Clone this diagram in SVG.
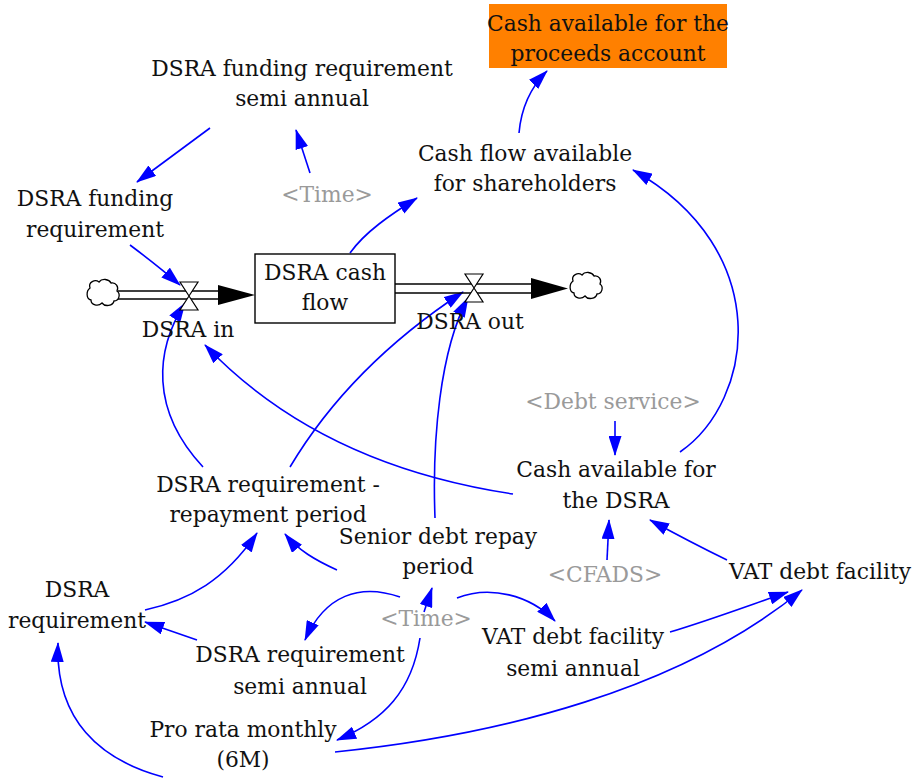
<svg xmlns="http://www.w3.org/2000/svg" width="917" height="780" viewBox="0 0 917 780">
<defs>
<style>
text{font-size:21.8px;fill:#111;text-anchor:middle}
text.g{fill:#9a9a9a}
.c{fill:none;stroke:#0000ff;stroke-width:1.6;marker-end:url(#a)}
.pipe{stroke:#000;stroke-width:1.4;fill:none}
.cloud{fill:#fff;stroke:#000;stroke-width:1.3}
.valve{fill:#fff;stroke:#000;stroke-width:1.2}
</style>
<marker id="a" markerWidth="20" markerHeight="13" refX="19" refY="6.5" orient="auto" markerUnits="userSpaceOnUse"><path d="M0,0 L20,6.5 L0,13 Z" fill="#0000ff"/></marker>
</defs>
<rect width="917" height="780" fill="#fff"/>

<g id="connectors">
<path class="c" d="M519,133 C521,110 530,88 547,71"/>
<path class="c" d="M210,128 L137,182"/>
<path class="c" d="M310,173 L296,130"/>
<path class="c" d="M350,253 C365,232 390,215 417,198"/>
<path class="c" d="M130,245 C150,260 165,272 180,285"/>
<path class="c" d="M203,467 C150,410 155,350 185,303"/>
<path class="c" d="M513,494 C420,480 300,445 205,345"/>
<path class="c" d="M290,467 C330,400 390,340 463,292"/>
<path class="c" d="M435,518 C432,440 440,350 468,298"/>
<path class="c" d="M615,421 L615,455"/>
<path class="c" d="M680,452 C755,400 775,250 633,170"/>
<path class="c" d="M607,560 L609,520"/>
<path class="c" d="M727,560 Q690,542 650,520"/>
<path class="c" d="M145,610 C190,600 225,580 257,533"/>
<path class="c" d="M337,570 C315,560 298,550 285,534"/>
<path class="c" d="M424,612 L432,588"/>
<path class="c" d="M400,597 C360,583 325,595 305,640"/>
<path class="c" d="M457,598 C490,585 530,595 555,621"/>
<path class="c" d="M420,638 C412,690 385,720 337,740"/>
<path class="c" d="M197,640 L145,622"/>
<path class="c" d="M670,632 C710,620 750,605 788,592"/>
<path class="c" d="M335,752 C500,735 680,690 802,590"/>
<path class="c" d="M163,777 C100,760 55,720 58,643"/>
</g>

<g id="flow-in">
<path class="cloud" d="M90,288 c-2,-6 5,-9 9,-6 c3,-4 10,-3 12,1 c5,-1 8,4 6,8 c4,3 2,10 -3,10 c-1,5 -9,6 -12,2 c-4,4 -11,2 -11,-3 c-5,-1 -5,-9 -1,-12 Z"/>
<line class="pipe" x1="118" y1="291" x2="220" y2="291"/>
<line class="pipe" x1="118" y1="299" x2="220" y2="299"/>
<polygon points="218,285 255,295 218,305" fill="#000"/>
<path class="valve" d="M180,282 L198,282 L189,296 Z M189,296 L198,310 L180,310 Z"/>
</g>

<g id="flow-out">
<line class="pipe" x1="395" y1="284" x2="533" y2="284"/>
<line class="pipe" x1="395" y1="293" x2="533" y2="293"/>
<polygon points="531,278 568,288.5 531,299" fill="#000"/>
<path class="cloud" d="M573,281 c-2,-6 5,-9 9,-6 c3,-4 10,-3 12,1 c5,-1 8,4 6,8 c4,3 2,10 -3,10 c-1,5 -9,6 -12,2 c-4,4 -11,2 -11,-3 c-5,-1 -5,-9 -1,-12 Z"/>
<path class="valve" d="M465,274 L483,274 L474,288 Z M474,288 L483,302 L465,302 Z"/>
</g>

<g font-family="DejaVu Serif, Liberation Serif, serif">
<g id="cash-proceeds">
<rect x="489" y="4" width="238" height="64" fill="#ff8000"/>
<text x="608" y="31">Cash available for the</text>
<text x="608" y="61">proceeds account</text>
</g>
<g id="dsra-funding-semi"><text x="302" y="76">DSRA funding requirement</text><text x="302" y="106">semi annual</text></g>
<g id="cf-shareholders"><text x="525" y="161">Cash flow available</text><text x="525" y="191">for shareholders</text></g>
<g id="dsra-funding"><text x="95" y="206">DSRA funding</text><text x="95" y="237">requirement</text></g>
<g id="time-top"><text class="g" x="327" y="202">&lt;Time&gt;</text></g>
<g id="dsra-cash-flow">
<rect x="255" y="254" width="140" height="69" fill="#fff" stroke="#000" stroke-width="1.4"/>
<text x="325" y="280">DSRA cash</text><text x="325" y="310">flow</text>
</g>
<g id="dsra-in"><text x="188" y="337">DSRA in</text></g>
<g id="dsra-out"><text x="470" y="329">DSRA out</text></g>
<g id="debt-service"><text class="g" x="613" y="409">&lt;Debt service&gt;</text></g>
<g id="cash-dsra"><text x="616" y="477">Cash available for</text><text x="616" y="508">the DSRA</text></g>
<g id="dsra-req-repay"><text x="268" y="492">DSRA requirement -</text><text x="268" y="522">repayment period</text></g>
<g id="senior-debt"><text x="438" y="544">Senior debt repay</text><text x="438" y="574">period</text></g>
<g id="cfads"><text class="g" x="605" y="582">&lt;CFADS&gt;</text></g>
<g id="vat-debt"><text x="820" y="579">VAT debt facility</text></g>
<g id="dsra-req"><text x="77" y="597">DSRA</text><text x="77" y="628">requirement</text></g>
<g id="time-bottom"><text class="g" x="426" y="626">&lt;Time&gt;</text></g>
<g id="vat-semi"><text x="573" y="644">VAT debt facility</text><text x="573" y="676">semi annual</text></g>
<g id="dsra-req-semi"><text x="300" y="662">DSRA requirement</text><text x="300" y="694">semi annual</text></g>
<g id="pro-rata"><text x="243" y="737">Pro rata monthly</text><text x="243" y="767">(6M)</text></g>
</g>
</svg>
